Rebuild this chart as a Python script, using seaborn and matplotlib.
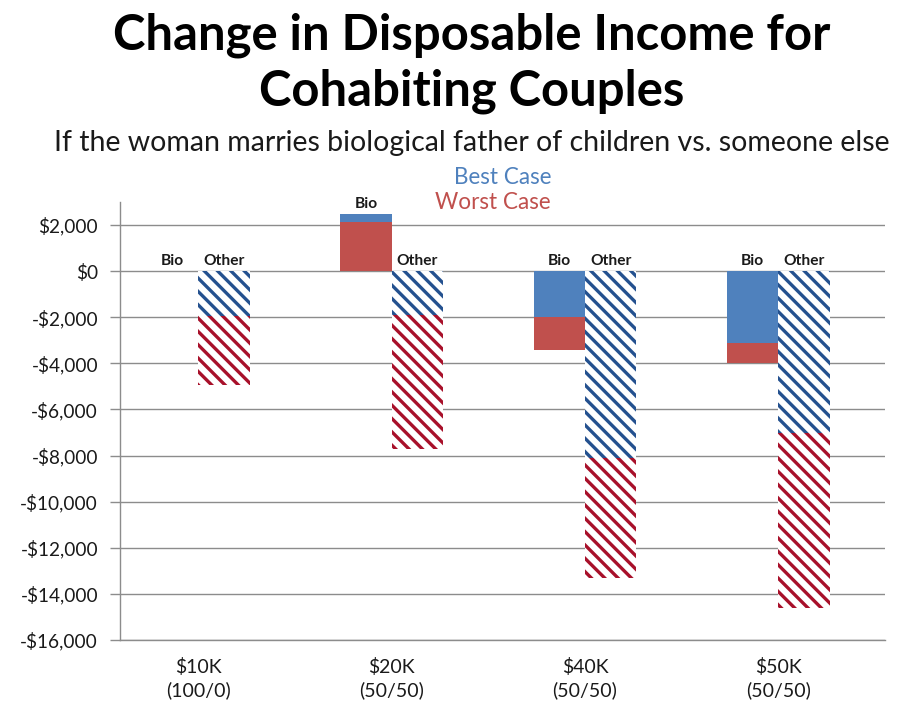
import pandas as pd
import matplotlib
matplotlib.use("Agg")
import matplotlib.pyplot as plt
import seaborn as sns
from matplotlib.ticker import FuncFormatter

# Data (change in disposable income, $)
incomes = ["$10K\n(100/0)", "$20K\n(50/50)", "$40K\n(50/50)", "$50K\n(50/50)"]
bio_best = [0, 2500, -2000, -3100]
bio_worst = [0, 2150, -3400, -4000]
other_best = [-1950, -1900, -8100, -7000]
other_worst = [-4950, -7700, -13300, -14600]

# Colours
BLUE = "#4F81BD"
RED = "#C0504D"
BLUE_HATCH = "#24518F"
RED_HATCH = "#A8102A"
GRID = "#8C8C8C"

rows = []
for i, inc in enumerate(incomes):
    rows.append((inc, "Bio", "Best", bio_best[i]))
    rows.append((inc, "Other", "Best", other_best[i]))
    rows.append((inc, "Bio", "Worst", bio_worst[i]))
    rows.append((inc, "Other", "Worst", other_worst[i]))
df = pd.DataFrame(rows, columns=["income", "kind", "case", "value"])

sns.set_theme(style="white")
plt.rcParams["font.family"] = ["Lato", "DejaVu Sans"]
plt.rcParams["hatch.linewidth"] = 2.0

DPI = 120
px = 72 / DPI  # points per pixel

fig = plt.figure(figsize=(906 / DPI, 702 / DPI), dpi=DPI)
ax = fig.add_axes([120 / 906, 1 - 640 / 702, (885 - 120) / 906, (640 - 202) / 702])
ax.set_axisbelow(True)

# worst case first, then best case on the same axes
sns.barplot(data=df[df["case"] == "Worst"], x="income", y="value", hue="kind",
            order=incomes, hue_order=["Bio", "Other"], palette=[RED, RED_HATCH],
            width=0.53, saturation=1, errorbar=None, legend=False, ax=ax)
sns.barplot(data=df[df["case"] == "Best"], x="income", y="value", hue="kind",
            order=incomes, hue_order=["Bio", "Other"], palette=[BLUE, BLUE_HATCH],
            width=0.53, saturation=1, errorbar=None, legend=False, ax=ax)

worst_bio, worst_other, best_bio, best_other = ax.containers[:4]
for wcont, bcont, hatched in [(worst_bio, best_bio, False), (worst_other, best_other, True)]:
    for wbar, bbar in zip(wcont, bcont):
        for bar, hc in [(wbar, RED_HATCH), (bbar, BLUE_HATCH)]:
            bar.set_linewidth(0)
            if hatched:
                bar.set_facecolor("white")
                bar.set_edgecolor(hc)
                bar.set_hatch("\\\\\\")
        # the bar with the smaller magnitude sits in front
        if abs(bbar.get_height()) <= abs(wbar.get_height()):
            bbar.set_zorder(3)
            wbar.set_zorder(2)
        else:
            wbar.set_zorder(3)
            bbar.set_zorder(2)

# Bio / Other labels above each bar
for wcont, bcont, name in [(worst_bio, best_bio, "Bio"), (worst_other, best_other, "Other")]:
    for wbar, bbar in zip(wcont, bcont):
        top = max(0, wbar.get_height(), bbar.get_height())
        xc = wbar.get_x() + wbar.get_width() / 2
        ax.annotate(name, (xc, top), xytext=(0, 3 * px), textcoords="offset points",
                    ha="center", va="bottom", fontsize=15.5 * px, fontweight="bold",
                    color="#1a1a1a", zorder=5)

ax.set_xlim(-0.405, 3.552)
ax.set_ylim(-16000, 3000)
ax.set_yticks(range(-16000, 2001, 2000))
ax.yaxis.set_major_formatter(FuncFormatter(
    lambda v, p: f"-${abs(v):,.0f}" if v < 0 else f"${v:,.0f}"))
ax.grid(axis="y", color=GRID, linewidth=1.4 * px)
ax.grid(axis="x", visible=False)
sns.despine(ax=ax)
for s in ["left", "bottom"]:
    ax.spines[s].set_color(GRID)
    ax.spines[s].set_linewidth(1.4 * px)
ax.tick_params(axis="y", left=True, length=10 * px, width=1.4 * px, color=GRID,
               labelsize=19 * px, labelcolor="#1a1a1a", pad=12 * px)
ax.tick_params(axis="x", bottom=False, labelsize=19.5 * px, labelcolor="#1a1a1a", pad=8 * px)
for lab in ax.get_xticklabels():
    lab.set_linespacing(1.35)
ax.set_xlabel("")
ax.set_ylabel("")

# Titles and the coloured case key
fig.text(472 / 906, 1 - 35 / 702, "Change in Disposable Income for", ha="center", va="center",
         fontsize=49 * px, fontweight="bold", color="black")
fig.text(472 / 906, 1 - 91 / 702, "Cohabiting Couples", ha="center", va="center",
         fontsize=49 * px, fontweight="bold", color="black")
fig.text(472 / 906, 1 - 143 / 702,
         "If the woman marries biological father of children vs. someone else",
         ha="center", va="center", fontsize=28.5 * px, color="#1a1a1a")
fig.text(503 / 906, 1 - 178 / 702, "Best Case", ha="center", va="center",
         fontsize=22.5 * px, color=BLUE)
fig.text(493 / 906, 1 - 203 / 702, "Worst Case", ha="center", va="center",
         fontsize=22.5 * px, color=RED)

fig.savefig("out.png", dpi=DPI)
